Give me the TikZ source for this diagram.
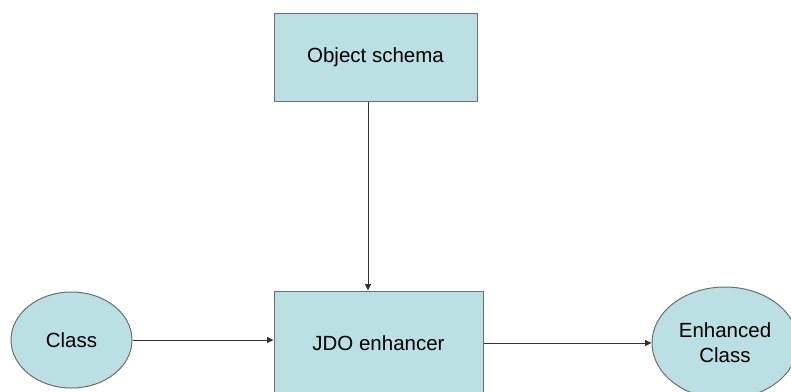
\documentclass[tikz,border=0pt]{standalone}
\usepackage{fontspec}
\setmainfont{Liberation Sans}
\usetikzlibrary{arrows.meta,shapes.geometric}
\definecolor{boxfill}{RGB}{187,224,227}
\definecolor{boxline}{RGB}{110,110,110}
\definecolor{wire}{RGB}{50,50,50}
\tikzset{
  blockbox/.style={draw=boxline, fill=boxfill, line width=1bp, minimum width=#1, inner sep=0pt},
  roundbox/.style={ellipse, draw=boxline, fill=boxfill, line width=1bp, inner sep=0pt},
  wirearrow/.style={draw=wire, line width=0.9bp, -{Triangle[length=6.5bp,width=6bp]}},
  lbl/.style={font=\fontsize{20.5bp}{25bp}\selectfont, align=center}
}
\begin{document}
\begin{tikzpicture}[x=1bp,y=-1bp]
  \useasboundingbox (0,0) rectangle (791,391);
  \fill[white] (0,0) rectangle (791,391);
  \clip (0,0) rectangle (791,391);

  % blocks
  \node[blockbox=203bp, minimum height=88bp, lbl] (obj) at (375.5,57) {Object schema};
  \node[blockbox=209bp, minimum height=104bp, lbl] (jdo) at (378.5,343) {JDO enhancer};

  % input and output classes
  \node[roundbox, minimum width=121bp, minimum height=96bp, lbl] (cls) at (71.5,340) {Class};
  \node[roundbox, minimum width=146bp, minimum height=112bp, lbl] (enh) at (725,343) {Enhanced\\Class};

  % where the schema feeds into the enhancer
  \coordinate (tap) at (368,0);

  % connectors
  \draw[wirearrow] (obj.south -| tap) -- (jdo.north -| tap);
  \draw[wirearrow] (cls.east) -- (jdo.west |- cls.east);
  \draw[wirearrow] (jdo.east) -- (enh.west |- jdo.east);
\end{tikzpicture}
\end{document}
